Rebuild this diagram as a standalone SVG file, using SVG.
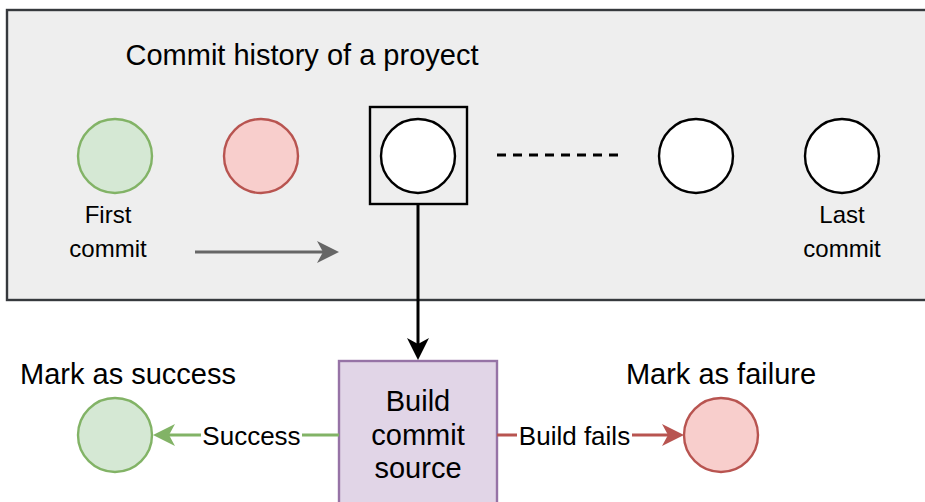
<svg xmlns="http://www.w3.org/2000/svg" width="925" height="502" viewBox="0 0 925 502">
<style>
text{font-family:"Liberation Sans",Arial,Helvetica,sans-serif;fill:#000;text-anchor:middle}
.big{font-size:29px}
.small{font-size:24px}
.lbl{font-size:26px}
.green{fill:#d5e8d4;stroke:#82b366;stroke-width:2.4}
.red{fill:#f8cecc;stroke:#b85450;stroke-width:2.4}
.white{fill:#ffffff;stroke:#000;stroke-width:2.4}
.edge{fill:none;stroke-width:3}
</style>
<defs>
<marker id="ahBlack" markerUnits="userSpaceOnUse" markerWidth="24" markerHeight="24" viewBox="0 0 24 24" refX="6" refY="11" orient="auto"><path d="M0,0 L22,11 L0,22 L6,11 Z" fill="#000"/></marker>
<marker id="ahGrey" markerUnits="userSpaceOnUse" markerWidth="24" markerHeight="24" viewBox="0 0 24 24" refX="6" refY="11" orient="auto"><path d="M0,0 L22,11 L0,22 L6,11 Z" fill="#666666"/></marker>
<marker id="ahGreen" markerUnits="userSpaceOnUse" markerWidth="24" markerHeight="24" viewBox="0 0 24 24" refX="6" refY="11" orient="auto"><path d="M0,0 L22,11 L0,22 L6,11 Z" fill="#82b366"/></marker>
<marker id="ahRed" markerUnits="userSpaceOnUse" markerWidth="24" markerHeight="24" viewBox="0 0 24 24" refX="6" refY="11" orient="auto"><path d="M0,0 L22,11 L0,22 L6,11 Z" fill="#b85450"/></marker>
</defs>

<g id="history">
<rect x="7" y="10" width="930" height="290" fill="#eeeeee" stroke="#36393d" stroke-width="2.4"/>
<text class="big" x="302" y="65">Commit history of a proyect</text>
</g>

<g id="commit1">
<circle class="green" cx="115" cy="156" r="37"/>
<text class="small" x="108" y="223">First</text>
<text class="small" x="108" y="257">commit</text>
</g>
<g id="commit2">
<circle class="red" cx="261" cy="156" r="37"/>
</g>
<g id="commit3">
<rect x="370" y="107" width="97" height="97" fill="none" stroke="#000" stroke-width="2.4"/>
<circle class="white" cx="418" cy="156" r="37"/>
</g>
<g id="commit4">
<circle class="white" cx="696" cy="156" r="37"/>
</g>
<g id="commit5">
<circle class="white" cx="842" cy="156" r="37"/>
<text class="small" x="842" y="223">Last</text>
<text class="small" x="842" y="257">commit</text>
</g>

<g id="build">
<rect x="339" y="361" width="158" height="160" fill="#e1d5e7" stroke="#9673a6" stroke-width="2.4"/>
<text class="big" x="418" y="411">Build</text>
<text class="big" x="418" y="444.5">commit</text>
<text class="big" x="418" y="478">source</text>
</g>

<g id="success">
<circle class="green" cx="115" cy="435" r="37"/>
<text class="big" x="128" y="384">Mark as success</text>
</g>
<g id="failure">
<circle class="red" cx="721" cy="435" r="37"/>
<text class="big" x="721" y="384">Mark as failure</text>
</g>

<g id="connectors">
<line x1="497" y1="155" x2="620" y2="155" stroke="#000" stroke-width="3" stroke-dasharray="9,7"/>
<line class="edge" x1="195" y1="252" x2="323" y2="252" stroke="#666666" marker-end="url(#ahGrey)"/>
<line class="edge" x1="418" y1="205" x2="418" y2="344" stroke="#000" marker-end="url(#ahBlack)"/>
<line class="edge" x1="339" y1="435" x2="169" y2="435" stroke="#82b366" marker-end="url(#ahGreen)"/>
<line class="edge" x1="497" y1="435" x2="668" y2="435" stroke="#b85450" marker-end="url(#ahRed)"/>
<rect x="201" y="421" width="101" height="29" fill="#ffffff"/>
<text class="lbl" x="251.5" y="444.5">Success</text>
<rect x="517" y="421" width="115" height="29" fill="#ffffff"/>
<text class="lbl" x="574.5" y="444.5">Build fails</text>
</g>
</svg>
